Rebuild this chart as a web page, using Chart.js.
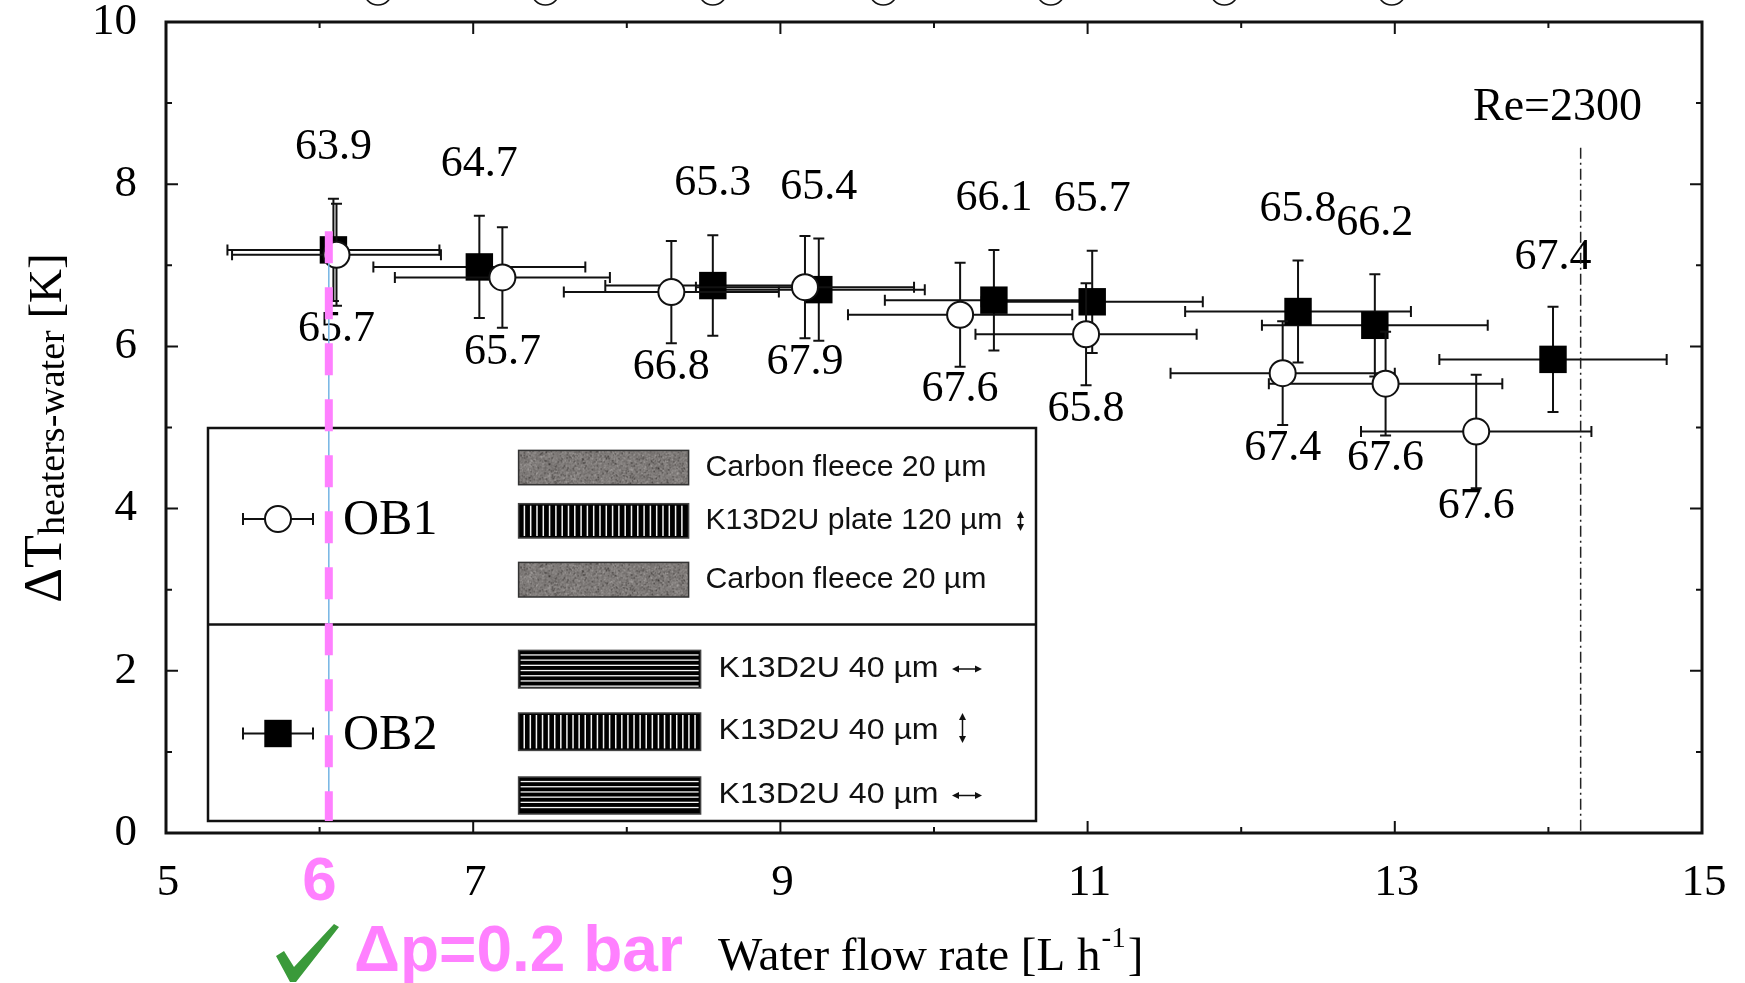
<!DOCTYPE html>
<html>
<head>
<meta charset="utf-8">
<title>Water flow rate vs temperature difference</title>
<script src="https://cdn.jsdelivr.net/npm/chart.js@4.4.0/dist/chart.umd.min.js"></script>
<style>
  body { margin: 0; background: #fff; }
  #wrap { width: 1745px; height: 983px; position: relative; }
</style>
</head>
<body>
<div id="wrap"><canvas id="chart"></canvas></div>
<script>
// axis ranges and ticks
const xTicks = [5, 7, 9, 11, 13, 15];
const xMinorTicks = [6, 8, 10, 12, 14];
const yTicks = [0, 2, 4, 6, 8, 10];
const yMinorTicks = [1, 3, 5, 7, 9];

// OB1 (open circles)
const ob1X = [6.11, 7.19, 8.29, 9.16, 10.17, 10.99, 12.27, 12.94, 13.53];
const ob1Y = [7.13, 6.85, 6.67, 6.73, 6.39, 6.15, 5.67, 5.54, 4.95];
const ob1XErr = [0.68, 0.70, 0.70, 0.71, 0.73, 0.72, 0.73, 0.76, 0.75];
const ob1YErr = [0.63, 0.62, 0.63, 0.63, 0.64, 0.63, 0.64, 0.64, 0.70];
const ob1Labels = ["65.7", "65.7", "66.8", "67.9", "67.6", "65.8", "67.4", "67.6", "67.6"];

// OB2 (filled squares)
const ob2X = [6.09, 7.04, 8.56, 9.25, 10.39, 11.03, 12.37, 12.87, 14.03];
const ob2Y = [7.19, 6.98, 6.75, 6.70, 6.57, 6.55, 6.43, 6.26, 5.84];
const ob2XErr = [0.69, 0.69, 0.70, 0.69, 0.71, 0.72, 0.735, 0.735, 0.74];
const ob2YErr = [0.63, 0.63, 0.62, 0.63, 0.62, 0.63, 0.63, 0.63, 0.65];
const ob2Labels = ["63.9", "64.7", "65.3", "65.4", "66.1", "65.7", "65.8", "66.2", "67.4"];

// annotations
const reX = 14.21;          // Re=2300 line
const reTop = 8.45;
const flowMarkX = 6.06;     // pink dashed marker
const flowMarkTop = 7.42;
const flowTickLabel = "6";
const topCircleX = [6.38, 7.47, 8.56, 9.67, 10.76, 11.89, 12.98];

const serif = '"Liberation Serif", "Times New Roman", serif';
const sans = '"Liberation Sans", Arial, sans-serif';

function hash(i) {
  let t = Math.imul(i ^ 0x9e3779b9, 2654435761) >>> 0;
  t ^= t >>> 15;
  t = Math.imul(t, 2246822519) >>> 0;
  t ^= t >>> 13;
  return (t & 0xffff) / 65535;
}

function fleecePatch(ctx, x, y, w, h) {
  const c = document.createElement("canvas");
  c.width = Math.round(w); c.height = Math.round(h);
  const g = c.getContext("2d");
  const img = g.createImageData(c.width, c.height);
  for (let i = 0; i < c.width * c.height; i++) {
    let v = 100 + hash(i * 7 + 3) * 45;
    const s = hash(i * 13 + 11);
    if (s > 0.97) v = 175;
    else if (s < 0.05) v = 55;
    img.data[i * 4] = v + 4; img.data[i * 4 + 1] = v; img.data[i * 4 + 2] = v - 2; img.data[i * 4 + 3] = 255;
  }
  g.putImageData(img, 0, 0);
  ctx.drawImage(c, x, y);
  ctx.strokeStyle = "#333"; ctx.lineWidth = 1.5;
  ctx.strokeRect(x, y, w, h);
}

function stripePatch(ctx, x, y, w, h, vertical, period) {
  ctx.fillStyle = "#000";
  ctx.fillRect(x, y, w, h);
  ctx.fillStyle = "#f4f4f4";
  if (vertical) {
    for (let p = x + period * 0.8; p < x + w - 2; p += period) ctx.fillRect(p, y + 2, 1.5, h - 4);
  } else {
    for (let p = y + period * 0.75; p < y + h - 2; p += period) ctx.fillRect(x + 2, p, w - 4, 1.3);
  }
  ctx.strokeStyle = "#444"; ctx.lineWidth = 1.5;
  ctx.strokeRect(x, y, w, h);
}

// draw text squeezed or stretched to a given width
function fitText(ctx, text, x, y, width) {
  const w = ctx.measureText(text).width;
  ctx.save();
  ctx.translate(x, y);
  ctx.scale(width / w, 1);
  ctx.fillText(text, 0, 0);
  ctx.restore();
}

function arrowV(ctx, cx, y1, y2) {
  ctx.beginPath(); ctx.moveTo(cx, y1 + 4); ctx.lineTo(cx, y2 - 4); ctx.stroke();
  ctx.beginPath(); ctx.moveTo(cx, y1); ctx.lineTo(cx - 3.5, y1 + 7); ctx.lineTo(cx + 3.5, y1 + 7); ctx.fill();
  ctx.beginPath(); ctx.moveTo(cx, y2); ctx.lineTo(cx - 3.5, y2 - 7); ctx.lineTo(cx + 3.5, y2 - 7); ctx.fill();
}

function arrowH(ctx, x1, x2, cy) {
  ctx.beginPath(); ctx.moveTo(x1 + 4, cy); ctx.lineTo(x2 - 4, cy); ctx.stroke();
  ctx.beginPath(); ctx.moveTo(x1, cy); ctx.lineTo(x1 + 7, cy - 3.5); ctx.lineTo(x1 + 7, cy + 3.5); ctx.fill();
  ctx.beginPath(); ctx.moveTo(x2, cy); ctx.lineTo(x2 - 7, cy - 3.5); ctx.lineTo(x2 - 7, cy + 3.5); ctx.fill();
}

// error bars under each dataset's own markers
const errorBars = {
  id: "errorBars",
  beforeDatasetDraw(chart, args) {
    const ds = chart.data.datasets[args.index];
    const sx = chart.scales.x, sy = chart.scales.y, ctx = chart.ctx;
    const cap = 5.5;
    ctx.save();
    ctx.strokeStyle = "#111";
    ctx.lineWidth = 2;
    ds.data.forEach((p, i) => {
      const px = sx.getPixelForValue(p.x), py = sy.getPixelForValue(p.y);
      const x1 = sx.getPixelForValue(p.x - ds.xErr[i]), x2 = sx.getPixelForValue(p.x + ds.xErr[i]);
      const y1 = sy.getPixelForValue(p.y + ds.yErr[i]), y2 = sy.getPixelForValue(p.y - ds.yErr[i]);
      ctx.beginPath();
      ctx.moveTo(x1, py); ctx.lineTo(x2, py);
      ctx.moveTo(x1, py - cap); ctx.lineTo(x1, py + cap);
      ctx.moveTo(x2, py - cap); ctx.lineTo(x2, py + cap);
      ctx.moveTo(px, y1); ctx.lineTo(px, y2);
      ctx.moveTo(px - cap, y1); ctx.lineTo(px + cap, y1);
      ctx.moveTo(px - cap, y2); ctx.lineTo(px + cap, y2);
      ctx.stroke();
    });
    ctx.restore();
  }
};

const decorations = {
  id: "decorations",
  afterDatasetsDraw(chart) {
    const ctx = chart.ctx, sx = chart.scales.x, sy = chart.scales.y, a = chart.chartArea;
    ctx.save();

    // point value labels
    ctx.fillStyle = "#000";
    ctx.font = "44px " + serif;
    ctx.textAlign = "center";
    ctx.textBaseline = "middle";
    chart.data.datasets.forEach(ds => {
      ds.data.forEach((p, i) => {
        ctx.fillText(ds.valueLabels[i], sx.getPixelForValue(p.x), sy.getPixelForValue(p.y) + ds.labelDy);
      });
    });

    // Re=2300 line
    const rx = sx.getPixelForValue(reX);
    ctx.strokeStyle = "#222";
    ctx.lineWidth = 1.5;
    ctx.setLineDash([11, 4, 2, 4]);
    ctx.beginPath();
    ctx.moveTo(rx, sy.getPixelForValue(reTop));
    ctx.lineTo(rx, a.bottom);
    ctx.stroke();
    ctx.setLineDash([]);
    ctx.textAlign = "left";
    ctx.textBaseline = "alphabetic";
    ctx.font = "46px " + serif;
    ctx.fillText("Re=2300", a.left + 1307, a.top + 98);

    // legend box
    const L = a.left + 42, R = a.left + 870, T = a.top + 406, M = a.top + 602.5, B = a.top + 799;
    ctx.fillStyle = "#fff";
    ctx.fillRect(L, T, R - L, B - T);
    ctx.strokeStyle = "#111";
    ctx.lineWidth = 2.5;
    ctx.strokeRect(L, T, R - L, B - T);
    ctx.beginPath(); ctx.moveTo(L, M); ctx.lineTo(R, M); ctx.stroke();

    // legend symbols
    const symL = L + 35, symR = L + 105, symC = L + 70;
    const ob1Y0 = T + 91, ob2Y0 = T + 305.5;
    ctx.lineWidth = 2;
    [ob1Y0, ob2Y0].forEach(yy => {
      ctx.beginPath();
      ctx.moveTo(symL, yy); ctx.lineTo(symR, yy);
      ctx.moveTo(symL, yy - 6); ctx.lineTo(symL, yy + 6);
      ctx.moveTo(symR, yy - 6); ctx.lineTo(symR, yy + 6);
      ctx.stroke();
    });
    ctx.beginPath(); ctx.arc(symC, ob1Y0, 13, 0, Math.PI * 2);
    ctx.fillStyle = "#fff"; ctx.fill(); ctx.stroke();
    ctx.fillStyle = "#000";
    ctx.fillRect(symC - 13.7, ob2Y0 - 13.7, 27.4, 27.4);

    ctx.font = "50px " + serif;
    ctx.textBaseline = "middle";
    ctx.fillText("OB1", L + 135, ob1Y0 + 2);
    ctx.fillText("OB2", L + 135, ob2Y0 + 2);

    // layer patches
    const pL = L + 310.6;
    fleecePatch(ctx, pL, T + 22.4, 170, 34.3);
    stripePatch(ctx, pL, T + 75.7, 170, 34.3, true, 6.3);
    fleecePatch(ctx, pL, T + 134.4, 170, 34.6);
    stripePatch(ctx, pL, T + 222.4, 182, 37.6, false, 5.2);
    stripePatch(ctx, pL, T + 285, 182, 37.4, true, 6.1);
    stripePatch(ctx, pL, T + 349, 182, 37, false, 5.2);

    ctx.fillStyle = "#111";
    ctx.strokeStyle = "#111";
    ctx.font = "29px " + sans;
    fitText(ctx, "Carbon fleece 20 \u00b5m", L + 497.4, T + 39.5, 281);
    fitText(ctx, "K13D2U plate 120 \u00b5m", L + 497.4, T + 93, 297);
    fitText(ctx, "Carbon fleece 20 \u00b5m", L + 497.4, T + 152, 281);
    fitText(ctx, "K13D2U 40 \u00b5m", L + 510.6, T + 241, 220);
    fitText(ctx, "K13D2U 40 \u00b5m", L + 510.6, T + 303, 220);
    fitText(ctx, "K13D2U 40 \u00b5m", L + 510.6, T + 367, 220);
    ctx.lineWidth = 1.5;
    arrowV(ctx, L + 812.5, T + 83, T + 103);
    arrowH(ctx, L + 744, L + 774, T + 241);
    arrowV(ctx, L + 754.5, T + 285, T + 315);
    arrowH(ctx, L + 744, L + 774, T + 367.5);

    // flow-rate marker: thin blue guide and pink dashed line
    const mx = sx.getPixelForValue(flowMarkX);
    ctx.strokeStyle = "#74b4e4";
    ctx.lineWidth = 1.5;
    ctx.beginPath();
    ctx.moveTo(mx, sy.getPixelForValue(ob2Y[0]) + 13);
    ctx.lineTo(mx, B);
    ctx.stroke();
    ctx.strokeStyle = "#ff80ff";
    ctx.lineWidth = 8;
    ctx.setLineDash([32, 24]);
    ctx.beginPath();
    ctx.moveTo(mx, sy.getPixelForValue(flowMarkTop));
    ctx.lineTo(mx, B);
    ctx.stroke();
    ctx.setLineDash([]);
    ctx.restore();
  },
  afterDraw(chart) {
    const ctx = chart.ctx, sx = chart.scales.x, sy = chart.scales.y, a = chart.chartArea;
    ctx.save();

    // frame with inward ticks
    ctx.strokeStyle = "#111";
    ctx.lineWidth = 2;
    ctx.beginPath();
    xTicks.concat(xMinorTicks).forEach(v => {
      const len = xTicks.includes(v) ? 12 : 6;
      const px = sx.getPixelForValue(v);
      ctx.moveTo(px, a.bottom); ctx.lineTo(px, a.bottom - len);
      ctx.moveTo(px, a.top); ctx.lineTo(px, a.top + len);
    });
    yTicks.concat(yMinorTicks).forEach(v => {
      const len = yTicks.includes(v) ? 12 : 6;
      const py = sy.getPixelForValue(v);
      ctx.moveTo(a.left, py); ctx.lineTo(a.left + len, py);
      ctx.moveTo(a.right, py); ctx.lineTo(a.right - len, py);
    });
    ctx.stroke();
    ctx.lineWidth = 3;
    ctx.strokeRect(a.left, a.top, a.right - a.left, a.bottom - a.top);

    // tick labels
    ctx.fillStyle = "#000";
    ctx.font = "45px " + serif;
    ctx.textAlign = "center";
    ctx.textBaseline = "middle";
    xTicks.forEach(v => ctx.fillText(String(v), sx.getPixelForValue(v) + 2, a.bottom + 50));
    ctx.textAlign = "right";
    yTicks.forEach(v => ctx.fillText(String(v), a.left - 29, sy.getPixelForValue(v)));

    // clipped circles of the panel above
    ctx.lineWidth = 1.5;
    topCircleX.forEach(v => {
      ctx.beginPath();
      ctx.arc(sx.getPixelForValue(v), a.top - 31, 14, 0, Math.PI * 2);
      ctx.stroke();
    });

    // y axis title: Delta T_heaters-water [K]
    ctx.translate(61, a.top + 406);
    ctx.rotate(-Math.PI / 2);
    ctx.textBaseline = "alphabetic";
    ctx.textAlign = "left";
    const parts = [["\u0394T", "54px ", 0], ["heaters-water", "38px ", 3], [" [K]", "47px ", 0]];
    let total = 0;
    parts.forEach(p => { ctx.font = p[1] + serif; total += ctx.measureText(p[0]).width; });
    let cx = -total / 2;
    parts.forEach(p => {
      ctx.font = p[1] + serif;
      ctx.fillText(p[0], cx, p[2]);
      cx += ctx.measureText(p[0]).width;
    });
    ctx.setTransform(1, 0, 0, 1, 0, 0);

    // x axis title with superscript
    ctx.font = "47px " + serif;
    let tx = 718;
    const base = a.bottom + 137;
    ctx.fillText("Water flow rate [L h", tx, base);
    tx += ctx.measureText("Water flow rate [L h").width;
    ctx.font = "29px " + serif;
    ctx.fillText("-1", tx + 1, base - 23);
    tx += ctx.measureText("-1").width + 3;
    ctx.font = "47px " + serif;
    ctx.fillText("]", tx, base);

    // pink "6" tick and pressure note with green check
    ctx.fillStyle = "#ff80ff";
    ctx.font = "bold 62px " + sans;
    ctx.textAlign = "center";
    ctx.textBaseline = "middle";
    ctx.fillText(flowTickLabel, sx.getPixelForValue(6), a.bottom + 50);
    ctx.textAlign = "left";
    ctx.textBaseline = "alphabetic";
    ctx.font = "bold 64px " + sans;
    ctx.fillText("\u0394p=0.2 bar", 354, a.bottom + 138);

    ctx.fillStyle = "#3a9a3a";
    ctx.beginPath();
    ctx.moveTo(276, 956);
    ctx.lineTo(284, 951);
    ctx.lineTo(294, 967);
    ctx.lineTo(334, 924);
    ctx.lineTo(339, 927);
    ctx.lineTo(296, 982);
    ctx.lineTo(290, 982);
    ctx.closePath();
    ctx.fill();
    ctx.restore();
  }
};

const ctx = document.getElementById("chart").getContext("2d");
const chart = new Chart(ctx, {
  type: "scatter",
  data: {
    datasets: [
      {
        label: "OB1",
        data: ob1X.map((x, i) => ({ x: x, y: ob1Y[i] })),
        xErr: ob1XErr,
        yErr: ob1YErr,
        valueLabels: ob1Labels,
        labelDy: 75,
        pointStyle: "circle",
        pointRadius: 13,
        pointBackgroundColor: "#fff",
        pointBorderColor: "#111",
        pointBorderWidth: 2
      },
      {
        label: "OB2",
        data: ob2X.map((x, i) => ({ x: x, y: ob2Y[i] })),
        xErr: ob2XErr,
        yErr: ob2YErr,
        valueLabels: ob2Labels,
        labelDy: -102,
        pointStyle: "rect",
        pointRadius: 19.4,
        pointBackgroundColor: "#000",
        pointBorderColor: "#000",
        pointBorderWidth: 0
      }
    ]
  },
  options: {
    responsive: true,
    maintainAspectRatio: false,
    animation: false,
    layout: { padding: { top: 22, right: 43, left: 0, bottom: 0 } },
    plugins: { legend: { display: false }, tooltip: { enabled: false } },
    scales: {
      x: {
        type: "linear",
        min: 5,
        max: 15,
        grid: { display: false, drawTicks: false },
        border: { display: false },
        ticks: { display: false, stepSize: 2 },
        afterFit: s => { s.height = 150; }
      },
      y: {
        type: "linear",
        min: 0,
        max: 10,
        grid: { display: false, drawTicks: false },
        border: { display: false },
        ticks: { display: false, stepSize: 2 },
        afterFit: s => { s.width = 166; }
      }
    }
  },
  plugins: [errorBars, decorations]
});
</script>
</body>
</html>
